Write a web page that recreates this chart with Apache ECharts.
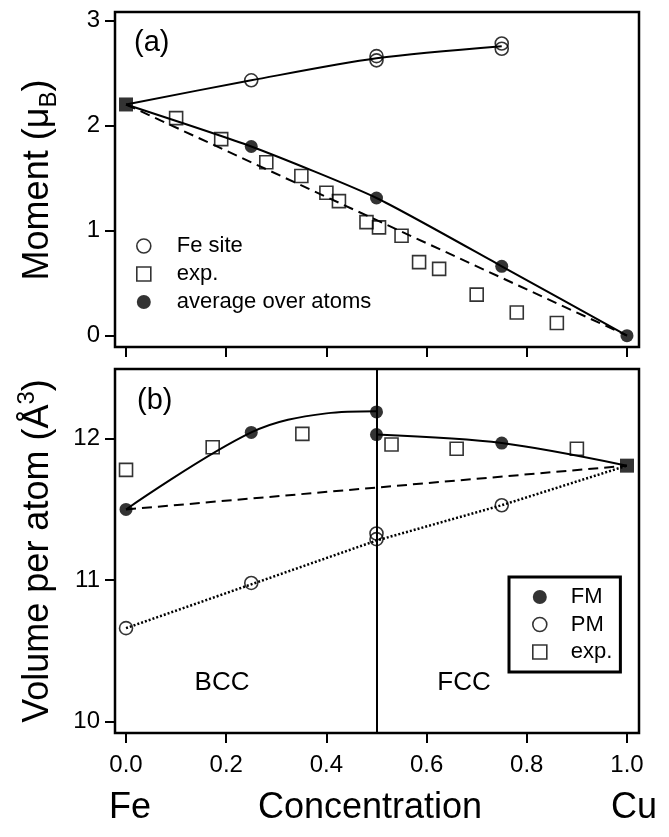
<!DOCTYPE html>
<html>
<head>
<meta charset="utf-8">
<script src="https://cdn.jsdelivr.net/npm/echarts@6/dist/echarts.min.js"></script>
<style>
  html, body { margin: 0; padding: 0; background: #fff; }
  #chart { width: 669px; height: 837px; }
</style>
</head>
<body>
<div id="chart"></div>
<script>
// tick labels
const xTicks = [0, 0.2, 0.4, 0.6, 0.8, 1.0];
const momentTicks = [0, 1, 2, 3];
const volumeTicks = [10, 11, 12];

// panel (a): magnetic moment
const feSiteX = [0.25, 0.5, 0.5, 0.75, 0.75];
const feSiteY = [2.43, 2.66, 2.62, 2.78, 2.73];
const feSiteFitX = [0, 0.25, 0.5, 0.75];
const feSiteFitY = [2.2, 2.43, 2.64, 2.755];
const momentExpX = [0.10, 0.19, 0.28, 0.35, 0.40, 0.425, 0.48, 0.505, 0.55, 0.585, 0.625, 0.70, 0.78, 0.86];
const momentExpY = [2.07, 1.87, 1.65, 1.52, 1.36, 1.28, 1.08, 1.03, 0.95, 0.70, 0.635, 0.39, 0.22, 0.12];
const avgX = [0.25, 0.5, 0.75, 1.0];
const avgY = [1.80, 1.31, 0.66, 0];
const avgFitX = [0, 0.25, 0.5, 0.75, 1.0];
const avgFitY = [2.2, 1.80, 1.31, 0.66, 0];
const momentLinearX = [0, 1];
const momentLinearY = [2.2, 0];
const pureFeMoment = [0, 2.2];

// panel (b): volume per atom
const fmX = [0, 0.25, 0.5, 0.5, 0.75];
const fmY = [11.5, 12.045, 12.19, 12.03, 11.97];
const bccFitX = [0, 0.25, 0.4, 0.5];
const bccFitY = [11.5, 12.045, 12.18, 12.195];
const fccFitX = [0.5, 0.75, 1.0];
const fccFitY = [12.03, 11.97, 11.81];
const pmX = [0, 0.25, 0.5, 0.5, 0.75];
const pmY = [10.66, 10.98, 11.33, 11.29, 11.53];
const pmLineX = [0, 0.25, 0.5, 0.75, 1.0];
const pmLineY = [10.66, 10.97, 11.28, 11.53, 11.81];
const volExpX = [0, 0.173, 0.352, 0.53, 0.66, 0.90];
const volExpY = [11.78, 11.94, 12.035, 11.96, 11.93, 11.93];
const volLinearX = [0, 1];
const volLinearY = [11.5, 11.81];
const pureCuVolume = [1, 11.81];
const phaseBoundary = 0.5;

const zip = (xs, ys) => xs.map((x, i) => [x, ys[i]]);

const FONT = "Liberation Sans";
const openStyle = { color: "transparent", borderColor: "#000", borderWidth: 1.6 };
const fillStyle = { color: "#000" };

const chart = echarts.init(document.getElementById("chart"));

const xAxisBase = (gridIndex, showLabels) => ({
  type: "value",
  gridIndex: gridIndex,
  min: -0.022,
  max: 1.024,
  splitLine: { show: false },
  axisLine: { show: false, onZero: false },
  axisTick: { show: true, customValues: xTicks, length: 10, lineStyle: { color: "#000", width: 2 } },
  axisLabel: {
    show: showLabels,
    customValues: xTicks,
    margin: 20,
    color: "#000",
    fontFamily: FONT,
    fontSize: 24,
    formatter: (v) => v.toFixed(1),
  },
});

const yAxisBase = (gridIndex, min, max, ticks) => ({
  type: "value",
  gridIndex: gridIndex,
  min: min,
  max: max,
  splitLine: { show: false },
  axisLine: { show: false, onZero: false },
  axisTick: { show: true, customValues: ticks, length: 10, lineStyle: { color: "#000", width: 2 } },
  axisLabel: { customValues: ticks, margin: 15, color: "#000", fontFamily: FONT, fontSize: 24 },
});

const lineSeries = (name, data, axis, type, smooth) => ({
  name: name,
  type: "line",
  xAxisIndex: axis,
  yAxisIndex: axis,
  data: data,
  symbol: "none",
  smooth: smooth,
  lineStyle: { color: "#000", width: 2, type: type },
  silent: true,
  z: 2,
});

const scatterSeries = (name, data, axis, symbol, style, size) => ({
  name: name,
  type: "scatter",
  xAxisIndex: axis,
  yAxisIndex: axis,
  data: data,
  symbol: symbol,
  symbolSize: size,
  itemStyle: style,
  clip: false,
  z: 5,
});

const option = {
  animation: false,
  backgroundColor: "#fff",
  grid: [
    { left: 115, right: 30, top: 12, height: 335, show: true, borderColor: "#000", borderWidth: 2.5 },
    { left: 115, right: 30, top: 369, height: 364, show: true, borderColor: "#000", borderWidth: 2.5 },
  ],
  xAxis: [xAxisBase(0, false), xAxisBase(1, true)],
  yAxis: [yAxisBase(0, -0.108, 3.08, momentTicks), yAxisBase(1, 9.918, 12.494, volumeTicks)],
  legend: [
    {
      orient: "vertical",
      left: 136,
      top: 235,
      padding: 0,
      itemGap: 6,
      itemWidth: 14,
      itemHeight: 14,
      selectedMode: false,
      textStyle: { fontFamily: FONT, fontSize: 22, color: "#000", lineHeight: 22, padding: [0, 0, 0, 21] },
      data: [
        { name: "Fe site", icon: "circle", itemStyle: openStyle },
        { name: "exp.", icon: "rect", itemStyle: openStyle },
        { name: "average over atoms", icon: "circle", itemStyle: fillStyle },
      ],
    },
    {
      orient: "vertical",
      left: 509,
      top: 577,
      padding: [9, 8, 9, 23],
      itemGap: 5.5,
      itemWidth: 14,
      itemHeight: 14,
      borderColor: "#000",
      borderWidth: 3,
      selectedMode: false,
      textStyle: { fontFamily: FONT, fontSize: 22, color: "#000", lineHeight: 22, padding: [0, 0, 0, 19] },
      data: [
        { name: "FM", icon: "circle", itemStyle: fillStyle },
        { name: "PM", icon: "circle", itemStyle: openStyle },
        { name: "exp.", icon: "rect", itemStyle: openStyle },
      ],
    },
  ],
  series: [
    // (a)
    lineSeries("Fe site fit", zip(feSiteFitX, feSiteFitY), 0, "solid", 0.3),
    lineSeries("average fit", zip(avgFitX, avgFitY), 0, "solid", 0.2),
    lineSeries("linear a", zip(momentLinearX, momentLinearY), 0, [10, 6], false),
    scatterSeries("Fe site", zip(feSiteX, feSiteY), 0, "circle", openStyle, 13),
    scatterSeries("exp.", zip(momentExpX, momentExpY), 0, "rect", openStyle, 13),
    scatterSeries("average over atoms", zip(avgX, avgY), 0, "circle", fillStyle, 13),
    scatterSeries("pure Fe", [pureFeMoment], 0, "rect", fillStyle, 14),
    // (b)
    Object.assign(lineSeries("BCC fit", zip(bccFitX, bccFitY), 1, "solid", 0.35), {
      markLine: {
        silent: true,
        symbol: "none",
        label: { show: false },
        lineStyle: { color: "#000", width: 2, type: "solid" },
        data: [{ xAxis: phaseBoundary }],
      },
    }),
    lineSeries("FCC fit", zip(fccFitX, fccFitY), 1, "solid", 0.3),
    lineSeries("linear b", zip(volLinearX, volLinearY), 1, [10, 6], false),
    Object.assign(lineSeries("PM line", zip(pmLineX, pmLineY), 1, [2, 2], false), {
      lineStyle: { color: "#000", width: 2.5, type: [2, 2] },
    }),
    scatterSeries("FM", zip(fmX, fmY), 1, "circle", fillStyle, 13),
    scatterSeries("PM", zip(pmX, pmY), 1, "circle", openStyle, 13),
    scatterSeries("exp.", zip(volExpX, volExpY), 1, "rect", openStyle, 13),
    scatterSeries("pure Cu", [pureCuVolume], 1, "rect", fillStyle, 14),
  ],
  graphic: [
    { type: "text", left: 134, top: 28, style: { text: "(a)", fontFamily: FONT, fontSize: 29, fill: "#000" } },
    { type: "text", left: 137, top: 386, style: { text: "(b)", fontFamily: FONT, fontSize: 29, fill: "#000" } },
    { type: "text", x: 222, y: 683, style: { text: "BCC", fontFamily: FONT, fontSize: 26, fill: "#000", align: "center", verticalAlign: "middle" } },
    { type: "text", x: 464, y: 683, style: { text: "FCC", fontFamily: FONT, fontSize: 26, fill: "#000", align: "center", verticalAlign: "middle" } },
    { type: "text", x: 109, y: 808, style: { text: "Fe", fontFamily: FONT, fontSize: 36, fill: "#000", align: "left", verticalAlign: "middle" } },
    { type: "text", x: 370, y: 808, style: { text: "Concentration", fontFamily: FONT, fontSize: 36, fill: "#000", align: "center", verticalAlign: "middle" } },
    { type: "text", x: 611, y: 808, style: { text: "Cu", fontFamily: FONT, fontSize: 36, fill: "#000", align: "left", verticalAlign: "middle" } },
    {
      type: "text", x: 38, y: 180, rotation: Math.PI / 2,
      style: {
        text: "{a|Moment (μ}{s|B}{a|)}",
        align: "center", verticalAlign: "middle",
        rich: {
          a: { fontFamily: FONT, fontSize: 36, lineHeight: 46, verticalAlign: "middle", fill: "#000" },
          s: { fontFamily: FONT, fontSize: 24, lineHeight: 24, verticalAlign: "bottom", fill: "#000" },
        },
      },
    },
    {
      type: "text", x: 38, y: 551, rotation: Math.PI / 2,
      style: {
        text: "{a|Volume per atom (Å}{s|3}{a|)}",
        align: "center", verticalAlign: "middle",
        rich: {
          a: { fontFamily: FONT, fontSize: 36, lineHeight: 46, verticalAlign: "middle", fill: "#000" },
          s: { fontFamily: FONT, fontSize: 24, lineHeight: 24, verticalAlign: "top", fill: "#000" },
        },
      },
    },
  ],
};

chart.setOption(option);
</script>
</body>
</html>
